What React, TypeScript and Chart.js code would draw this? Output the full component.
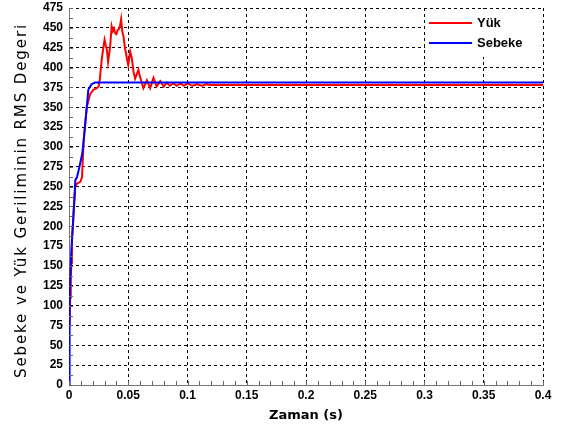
import React, { useEffect, useRef } from "react";
import { Chart, registerables } from "chart.js";

Chart.register(...registerables);

// Time (s) and RMS values
const sebekeTime = [0, 0.0005, 0.001, 0.002, 0.0034, 0.0048, 0.0053, 0.0068, 0.0082, 0.011, 0.0125, 0.015, 0.0163, 0.019, 0.022, 0.4];
const sebekeValues = [0, 100, 132, 170, 204, 242, 258, 262, 271, 290, 309, 350, 372, 379, 381, 381];

const yukTime = [
  0.0005, 0.001, 0.0015, 0.002, 0.0025, 0.004, 0.0053, 0.0068, 0.0096, 0.011, 0.0124, 0.014, 0.015, 0.0177, 0.0205,
  0.0234, 0.025, 0.026, 0.0276, 0.029, 0.030, 0.031, 0.032, 0.033, 0.0347, 0.036, 0.037, 0.038, 0.039, 0.040, 0.041,
  0.042, 0.043, 0.044, 0.045, 0.046, 0.0473, 0.0488, 0.050, 0.0516, 0.053, 0.0544, 0.0558, 0.0586, 0.060, 0.0628,
  0.0657, 0.0685, 0.0713, 0.074, 0.077, 0.080, 0.0825, 0.085, 0.088, 0.091, 0.094, 0.097, 0.100, 0.104, 0.108, 0.112,
  0.116, 0.120, 0.4,
];
const yukValues = [
  75, 110, 135, 154, 183, 220, 250, 254, 256, 262, 309, 335, 350, 366, 372,
  374, 376, 385, 410, 425, 435, 428, 422, 407, 426, 452, 446, 449, 443, 442, 447,
  448, 452, 461, 445, 439, 424, 412, 403, 420, 412, 395, 386, 397, 388, 374,
  384, 374, 387, 376, 383, 376, 381, 377, 380, 377, 380, 377, 380, 377, 379, 377,
  379, 378, 378,
];

const xTicksMajor = [0, 0.05, 0.1, 0.15, 0.2, 0.25, 0.3, 0.35, 0.4];
const legendLabels = ["Yük", "Sebeke"];
const seriesColors = ["#ff0000", "#0000ff"];
const yTitle = "Sebeke ve Yük Geriliminin RMS Degeri";

const minorTicksPlugin = {
  id: "minorTicks",
  afterDatasetsDraw(chart: any) {
    const { ctx, chartArea, scales } = chart;
    ctx.save();
    ctx.strokeStyle = "#666";
    ctx.lineWidth = 1;
    ctx.beginPath();
    for (let i = 0; i <= 40; i++) {
      const x = Math.round(scales.x.getPixelForValue(i * 0.01)) + 0.5;
      ctx.moveTo(x, chartArea.bottom);
      ctx.lineTo(x, chartArea.bottom - 4);
    }
    for (let i = 0; i <= 38; i++) {
      const y = Math.round(scales.y.getPixelForValue(i * 12.5)) + 0.5;
      ctx.moveTo(chartArea.left, y);
      ctx.lineTo(chartArea.left + 4, y);
    }
    ctx.stroke();
    ctx.restore();
  },
};

const yTitlePlugin = {
  id: "yTitle",
  afterDraw(chart: any) {
    const { ctx, chartArea } = chart;
    ctx.save();
    ctx.translate(22, (chartArea.top + chartArea.bottom) / 2 + 4);
    ctx.rotate(-Math.PI / 2);
    ctx.font = "15px 'DejaVu Sans', sans-serif";
    try {
      (ctx as any).letterSpacing = "1.9px";
    } catch (e) {}
    ctx.fillStyle = "#000";
    ctx.textAlign = "center";
    ctx.textBaseline = "middle";
    ctx.fillText(yTitle, 0, 0);
    ctx.restore();
  },
};

const legendPlugin = {
  id: "insideLegend",
  afterDraw(chart: any) {
    const { ctx, chartArea } = chart;
    const left = chartArea.right - 118;
    const top = chartArea.top + 1;
    ctx.save();
    ctx.fillStyle = "#ffffff";
    ctx.fillRect(left, top, 116, 48);
    ctx.font = "bold 13px 'Liberation Sans', Arial, sans-serif";
    ctx.textBaseline = "middle";
    legendLabels.forEach((lab, i) => {
      const y = top + 14 + i * 20;
      ctx.strokeStyle = seriesColors[i];
      ctx.lineWidth = 2;
      ctx.beginPath();
      ctx.moveTo(left + 4, y);
      ctx.lineTo(left + 47, y);
      ctx.stroke();
      ctx.fillStyle = "#000";
      ctx.fillText(lab, left + 52, y);
    });
    ctx.restore();
  },
};

export default function App() {
  const ref = useRef<HTMLCanvasElement>(null);
  useEffect(() => {
    if (!ref.current) return;
    const tickFont = { family: "'Liberation Sans', Arial, sans-serif", size: 12, weight: "bold" as const };
    const chart = new Chart(ref.current, {
      type: "line",
      data: {
        datasets: [
          {
            label: legendLabels[1],
            data: sebekeTime.map((t, i) => ({ x: t, y: sebekeValues[i] })),
            borderColor: seriesColors[1],
            borderWidth: 2,
            pointRadius: 0,
            tension: 0,
            fill: false,
          },
          {
            label: legendLabels[0],
            data: yukTime.map((t, i) => ({ x: t, y: yukValues[i] })),
            borderColor: seriesColors[0],
            borderWidth: 2,
            pointRadius: 0,
            tension: 0,
            fill: false,
          },
        ],
      },
      options: {
        animation: false,
        responsive: false,
        layout: { padding: { top: 8, right: 22, left: 0, bottom: 0 } },
        plugins: { legend: { display: false }, tooltip: { enabled: false } },
        scales: {
          x: {
            type: "linear",
            min: 0,
            max: 0.4,
            afterBuildTicks: (s: any) => {
              s.ticks = xTicksMajor.map((v) => ({ value: v }));
            },
            afterFit: (s: any) => {
              s.height = 45;
              s.paddingLeft = 0;
              s.paddingRight = 0;
            },
            ticks: {
              color: "#000",
              font: tickFont,
              padding: 3,
              maxRotation: 0,
              autoSkip: false,
              callback: (v: any) => String(+Number(v).toFixed(2)),
            },
            grid: { color: "#000", drawTicks: false, lineWidth: 1 },
            border: { display: true, color: "#777", width: 1, dash: [3, 3] },
            title: {
              display: true,
              text: "Zaman (s)",
              color: "#000",
              font: { family: "'DejaVu Sans', sans-serif", size: 13, weight: "bold" },
              padding: { top: 2, bottom: 7 },
            },
          },
          y: {
            type: "linear",
            min: 0,
            max: 475,
            ticks: { stepSize: 25, color: "#000", font: tickFont, padding: 6, autoSkip: false },
            afterFit: (s: any) => {
              s.width = 69;
              s.paddingTop = 0;
              s.paddingBottom = 0;
            },
            grid: { color: "#000", drawTicks: false, lineWidth: 1 },
            border: { display: true, color: "#777", width: 1, dash: [3, 3] },
            title: { display: false },
          },
        },
      },
      plugins: [minorTicksPlugin, legendPlugin, yTitlePlugin],
    } as any);
    return () => chart.destroy();
  }, []);
  return (
    <div style={{ position: "absolute", left: 0, top: 0, width: 565, height: 430, background: "#fff" }}>
      <canvas ref={ref} width={565} height={430} />
    </div>
  );
}
